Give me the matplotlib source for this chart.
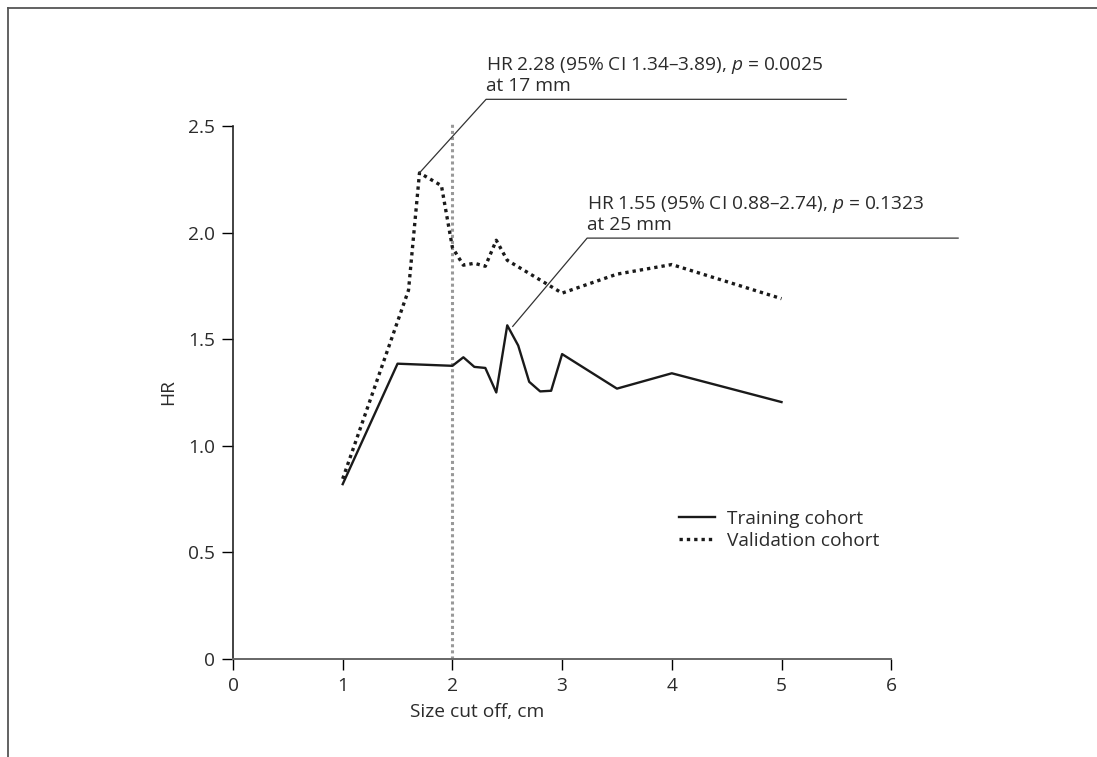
import matplotlib
matplotlib.use('Agg')
import matplotlib.pyplot as plt
from matplotlib.lines import Line2D

plt.rcParams['font.family'] = ['Open Sans', 'DejaVu Sans']
plt.rcParams['mathtext.fontset'] = 'custom'
plt.rcParams['mathtext.it'] = 'Open Sans:italic'
plt.rcParams['mathtext.rm'] = 'Open Sans'

# Datos
train_x = [1.0, 1.5, 2.0, 2.1, 2.2, 2.3, 2.4, 2.5, 2.6, 2.7, 2.8, 2.9, 3.0, 3.5, 4.0, 5.0]
train_hr = [0.82, 1.385, 1.375, 1.415, 1.37, 1.365, 1.25, 1.565, 1.47, 1.30, 1.255, 1.258, 1.43, 1.268, 1.34, 1.205]

valid_x = [1.0, 1.6, 1.7, 1.9, 2.0, 2.1, 2.2, 2.3, 2.4, 2.5, 3.0, 3.5, 4.0, 5.0]
valid_hr = [0.845, 1.73, 2.28, 2.22, 1.93, 1.847, 1.856, 1.842, 1.964, 1.87, 1.716, 1.805, 1.85, 1.69]

xticks = [0, 1, 2, 3, 4, 5, 6]
yticks = [0, 0.5, 1.0, 1.5, 2.0, 2.5]
ytick_labels = ['0', '0.5', '1.0', '1.5', '2.0', '2.5']

CUTOFF = 2.0
note_valid = 'HR 2.28 (95% CI 1.34\u20133.89), $p$ = 0.0025\nat 17 mm'
note_train = 'HR 1.55 (95% CI 0.88\u20132.74), $p$ = 0.1323\nat 25 mm'

FS = 13.8
TXT = '#2b2b2b'

fig = plt.figure(figsize=(10.97, 7.57), dpi=100)
ax = fig.add_axes([0.2124, 0.1295, 0.600, 0.7041])

ax.plot(train_x, train_hr, color='#1a1a1a', lw=1.7, label='Training cohort')
ax.plot(valid_x, valid_hr, color='#1a1a1a', lw=2.4, ls=(0, (1, 1.2)), label='Validation cohort')
ax.plot([CUTOFF, CUTOFF], [0, 2.51], color='#999999', lw=2.2, ls=(0, (1, 1)), clip_on=False, zorder=1)

# lineas guia de las anotaciones
i = valid_hr.index(max(valid_hr))
ax.plot([valid_x[i], 2.307, 5.59], [valid_hr[i], 2.625, 2.625], color='#333333', lw=0.9, clip_on=False)
ax.text(2.307, 2.645, note_valid, fontsize=FS, color=TXT, ha='left', va='bottom', linespacing=1.05)

j = train_hr.index(max(train_hr))
ax.plot([train_x[j] + 0.05, 3.228, 6.61], [train_hr[j] - 0.005, 1.974, 1.974], color='#333333', lw=0.9, clip_on=False)
ax.text(3.228, 1.994, note_train, fontsize=FS, color=TXT, ha='left', va='bottom', linespacing=1.05)

ax.set_xlim(0, 6)
ax.set_ylim(0, 2.5)
ax.set_xticks(xticks)
ax.set_xticklabels([str(t) for t in xticks])
ax.set_yticks(yticks)
ax.set_yticklabels(ytick_labels)
ax.tick_params(direction='out', length=8, width=1, labelsize=FS, labelcolor=TXT, pad=5)
for s in ['top', 'right']:
	ax.spines[s].set_visible(False)
ax.spines['left'].set_color('#222222')
ax.spines['bottom'].set_color('#666666')
ax.spines['left'].set_linewidth(1.2)
ax.spines['bottom'].set_linewidth(1.4)

ax.set_ylabel('HR', fontsize=FS, color=TXT)
ax.yaxis.set_label_coords(-0.085, 0.5)
ax.text(0.371, -0.10, 'Size cut off, cm', transform=ax.transAxes, fontsize=FS, color=TXT, ha='center', va='center')

ax.legend(loc='center left', bbox_to_anchor=(0.677, 0.242), frameon=False, fontsize=FS,
		  handlelength=1.9, handletextpad=0.6, borderpad=0, borderaxespad=0, labelspacing=0.2,
		  labelcolor=TXT)

# marco parcial de la figura
fig.add_artist(Line2D([0.0073, 1.0], [0.9894, 0.9894], color='#555555', lw=1.3))
fig.add_artist(Line2D([0.0073, 0.0073], [0.0, 0.9894], color='#555555', lw=1.3))

fig.savefig('out.png', dpi=100)
